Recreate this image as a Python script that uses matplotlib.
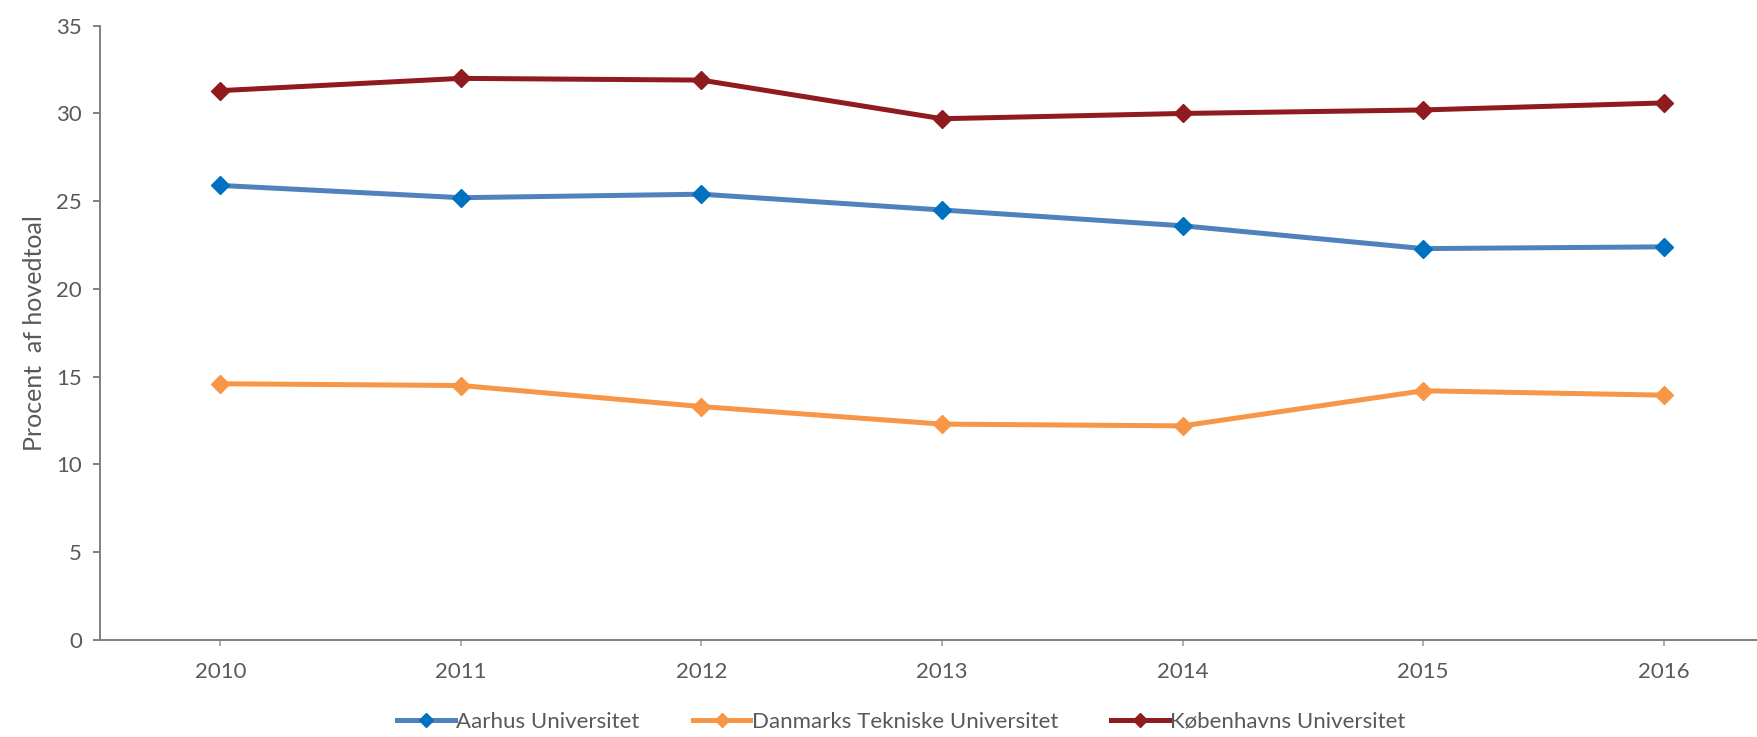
import matplotlib
matplotlib.use("Agg")
import matplotlib.pyplot as plt

years = ["2010", "2011", "2012", "2013", "2014", "2015", "2016"]
aarhus = [25.9, 25.2, 25.4, 24.5, 23.6, 22.3, 22.4]
dtu = [14.6, 14.5, 13.3, 12.3, 12.2, 14.2, 13.95]
ku = [31.3, 32.0, 31.9, 29.7, 30.0, 30.2, 30.6]
series_names = ["Aarhus Universitet", "Danmarks Tekniske Universitet", "Københavns Universitet"]
y_ticks = [0, 5, 10, 15, 20, 25, 30, 35]

plt.rcParams['font.family'] = ['Lato', 'DejaVu Sans']
W, H = 1757, 737
fig = plt.figure(figsize=(W / 100, H / 100), dpi=100)
left, right, bottom, top = 100, 1784, 640, 25.7
ax = fig.add_axes([left / W, (H - bottom) / H, (right - left) / W, (bottom - top) / H])

x = list(range(len(years)))
styles = [
    (aarhus, "#4F81BD", "#0070C0"),
    (dtu, "#F79646", "#F79646"),
    (ku, "#8F1B1F", "#8F1B1F"),
]
for (vals, lc, mc), name in zip(styles, series_names):
    ax.plot(x, vals, color=lc, lw=3.6, marker="D", ms=9.5,
            markerfacecolor=mc, markeredgecolor=mc, label=name, clip_on=False)

ax.set_xlim(-0.5, len(years) - 0.5)
ax.set_ylim(0, 35)
ax.set_xticks(x)
ax.set_xticklabels(years)
ax.set_yticks(y_ticks)

for s in ["top", "right"]:
    ax.spines[s].set_visible(False)
for s in ["left", "bottom"]:
    ax.spines[s].set_color("#808080")
    ax.spines[s].set_linewidth(1.4)
ax.tick_params(axis="y", colors="#808080", labelcolor="#595959", labelsize=16,
               length=5, width=1.4, pad=8)
ax.tick_params(axis="x", colors="#A0A0A0", labelcolor="#595959", labelsize=16,
               length=4, width=1.2, pad=12)

ax.set_ylabel("Procent  af hovedtoal", fontsize=18, color="#595959")
ax.yaxis.set_label_coords(-0.032, 0.5)

leg = fig.legend(loc="center", bbox_to_anchor=(0.513, 0.021), ncol=3, frameon=False,
                 fontsize=16, handlelength=2.6, handletextpad=0.05, columnspacing=2.4,
                 numpoints=1, markerscale=0.8)
for t in leg.get_texts():
    t.set_color("#595959")

fig.savefig("out.png", dpi=100)
